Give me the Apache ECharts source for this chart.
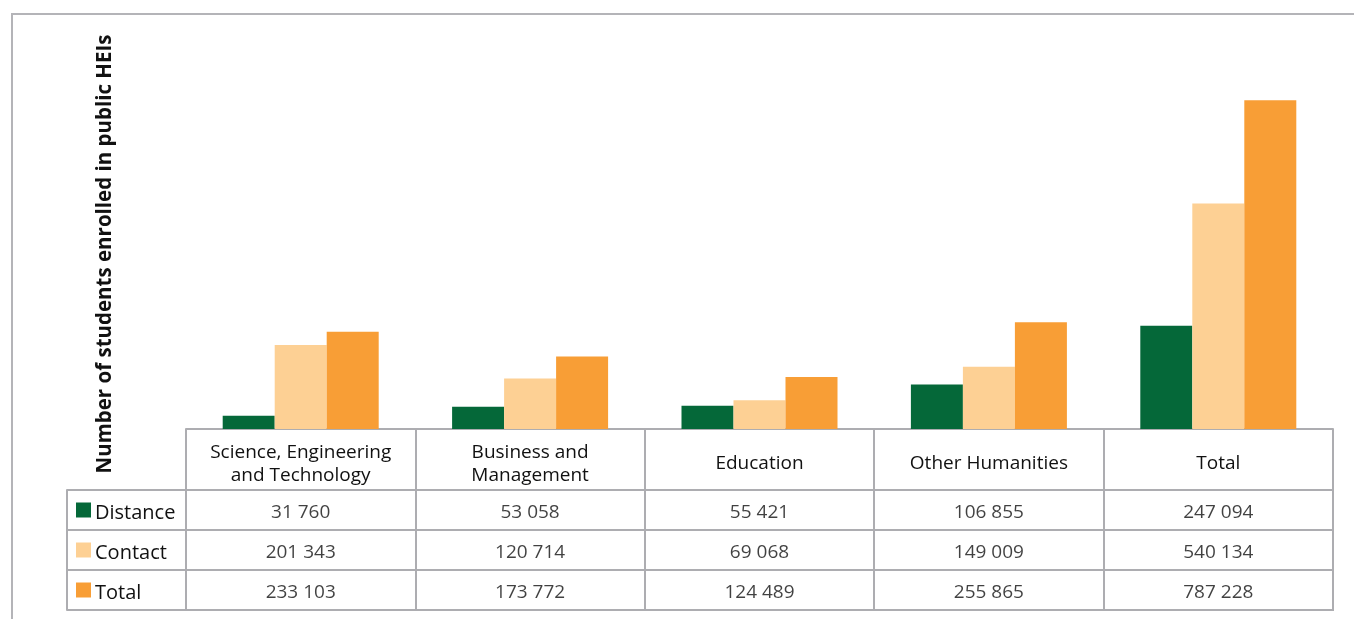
<!DOCTYPE html>
<html><head><meta charset="utf-8">
<script src="https://cdn.jsdelivr.net/npm/echarts@6/dist/echarts.min.js"></script>
<style>html,body{margin:0;padding:0;background:#fff}#c{width:1354px;height:619px}</style>
</head><body><div id="c"></div>
<script>
const categories = ['Science, Engineering\nand Technology', 'Business and\nManagement', 'Education', 'Other Humanities', 'Total'];
const seriesNames = ['Distance', 'Contact', 'Total'];
const distance = [31760, 53058, 55421, 106855, 247094];
const contact = [201343, 120714, 69068, 149009, 540134];
const total = [233103, 173772, 124489, 255865, 787228];
const yTitle = 'Number of students enrolled in public HEIs';

const colors = ['#056839', '#FDD094', '#F89E36'];
const gray = '#adadb1';
const textColor = '#111111';
const font = 'Open Sans';
const fmt = v => String(v).replace(/\B(?=(\d{3})+(?!\d))/g, ' ');
const rows = [distance, contact, total];
const cellData = [];
rows.forEach((r, ri) => r.forEach((v, ci) => cellData.push([ci, ri, v])));

const rich = { t: { fontSize: 20, color: textColor, padding: [7, 0, 0, 4], fontFamily: font } };
colors.forEach((c, i) => { rich['s' + i] = { width: 15, height: 15, backgroundColor: c }; });

const chart = echarts.init(document.getElementById('c'), null, { renderer: 'canvas' });
chart.setOption({
  animation: false,
  textStyle: { fontFamily: font },
  graphic: [{ type: 'polyline', silent: true, shape: { points: [[12, 619], [12, 14], [1354, 14]] }, style: { stroke: '#b4b4b8', lineWidth: 2, fill: null } }],
  grid: [
    { left: 186, right: 21, top: 95, bottom: 190 },
    { left: 186, right: 21, top: 490, bottom: 9, show: true, borderColor: gray, borderWidth: 2 }
  ],
  xAxis: [
    { type: 'category', gridIndex: 0, data: categories,
      axisLine: { lineStyle: { color: gray, width: 2 } },
      axisTick: { show: true, length: 60, lineStyle: { color: gray, width: 2 } },
      axisLabel: { color: textColor, fontSize: 19, lineHeight: 23, margin: 35, verticalAlign: 'middle', interval: 0, fontFamily: font } },
    { type: 'category', gridIndex: 1, data: categories,
      axisLine: { show: false }, axisTick: { show: false }, axisLabel: { show: false },
      splitLine: { show: true, interval: 0, lineStyle: { color: gray, width: 2 } } }
  ],
  yAxis: [
    { type: 'value', gridIndex: 0, min: 0, max: 800000,
      axisLine: { show: false }, axisTick: { show: false }, axisLabel: { show: false }, splitLine: { show: false },
      name: yTitle, nameLocation: 'middle', nameGap: 70, nameRotate: 90,
      nameTextStyle: { fontSize: 20.5, fontWeight: 'bold', color: textColor, fontFamily: font, padding: [0, 0, 0, 16] } },
    { type: 'category', gridIndex: 1, inverse: true, data: seriesNames,
      axisLine: { show: false },
      axisTick: { show: true, length: 119, lineStyle: { color: gray, width: 2 } },
      splitLine: { show: true, interval: 0, lineStyle: { color: gray, width: 2 } },
      axisLabel: { align: 'left', margin: 110, formatter: (v, i) => '{s' + i + '|}{t|' + v + '}', rich: rich } },
    { type: 'category', gridIndex: 1, position: 'left', offset: 119, data: seriesNames,
      axisLine: { show: true, lineStyle: { color: gray, width: 2 } },
      axisTick: { show: false }, axisLabel: { show: false } }
  ],
  series: [
    { name: seriesNames[0], type: 'bar', data: distance, barWidth: 52, barGap: '0%', itemStyle: { color: colors[0] } },
    { name: seriesNames[1], type: 'bar', data: contact, barWidth: 52, barGap: '0%', itemStyle: { color: colors[1] } },
    { name: seriesNames[2], type: 'bar', data: total, barWidth: 52, barGap: '0%', itemStyle: { color: colors[2] } },
    { type: 'scatter', xAxisIndex: 1, yAxisIndex: 1, data: cellData, symbolSize: 1,
      itemStyle: { color: 'rgba(0,0,0,0)' },
      label: { show: true, position: 'inside', offset: [0, 3], formatter: p => fmt(p.data[2]), fontSize: 19, color: textColor, fontFamily: font } }
  ]
});
</script></body></html>
